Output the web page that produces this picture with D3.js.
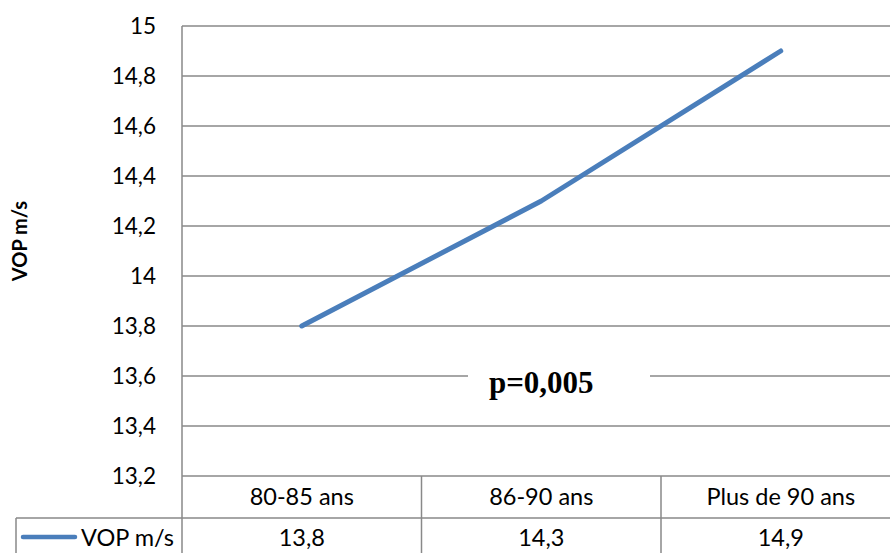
<!DOCTYPE html>
<html><head><meta charset="utf-8">
<script src="https://cdn.jsdelivr.net/npm/d3@7"></script>
<style>body{margin:0;background:#fff}svg{display:block}</style>
</head><body>
<script>
const categories = ["80-85 ans", "86-90 ans", "Plus de 90 ans"];
const values = [13.8, 14.3, 14.9];
const seriesName = "VOP m/s";
const yTicks = [13.2, 13.4, 13.6, 13.8, 14, 14.2, 14.4, 14.6, 14.8, 15];
const yTitle = "VOP m/s";
const annotation = "p=0,005";

const W = 890, H = 553;
const mLeft = 182, mTop = 26, mBottom = 476, colW = 239.5;
const svg = d3.select("body").append("svg").attr("width", W).attr("height", H);

const x = d3.scaleBand().domain(categories).range([mLeft, mLeft + colW * categories.length]);
const y = d3.scaleLinear().domain([13.2, 15]).range([mBottom, mTop]);
const fmt = v => String(v).replace(".", ",");
const grey = "#898989";
const font = "Lato, 'Open Sans', sans-serif";

// gridlines
svg.append("g").selectAll("line").data(yTicks).join("line")
  .attr("x1", mLeft).attr("x2", W + 20)
  .attr("y1", d => y(d)).attr("y2", d => y(d))
  .attr("stroke", grey).attr("stroke-width", 1.5);

// y axis line
svg.append("line").attr("x1", mLeft).attr("x2", mLeft).attr("y1", mTop).attr("y2", H)
  .attr("stroke", grey).attr("stroke-width", 1.5);

// tick labels
svg.append("g").selectAll("text").data(yTicks).join("text")
  .attr("x", mLeft - 26).attr("y", d => y(d)).attr("dy", "0.35em")
  .attr("text-anchor", "end").attr("font-family", font).attr("font-size", 22.5)
  .attr("fill", "#000").text(fmt);

// y title
svg.append("text").attr("transform", `translate(27,${(mTop + mBottom) / 2 - 10}) rotate(-90)`)
  .attr("text-anchor", "middle").attr("font-family", font).attr("font-weight", "bold")
  .attr("font-size", 20).text(yTitle);

// table
const rowTop = mBottom, rowMid = 518;
svg.append("line").attr("x1", 16).attr("x2", W + 20).attr("y1", rowMid).attr("y2", rowMid)
  .attr("stroke", grey).attr("stroke-width", 1.5);
svg.append("line").attr("x1", 16).attr("x2", 16).attr("y1", rowMid).attr("y2", H)
  .attr("stroke", grey).attr("stroke-width", 1.5);
svg.append("g").selectAll("line").data(categories.slice(1)).join("line")
  .attr("x1", d => x(d)).attr("x2", d => x(d)).attr("y1", rowTop).attr("y2", H)
  .attr("stroke", grey).attr("stroke-width", 1.5);
svg.append("g").selectAll("text").data(categories).join("text")
  .attr("x", d => x(d) + x.bandwidth() / 2).attr("y", 505)
  .attr("text-anchor", "middle").attr("font-family", font).attr("font-size", 23.5).text(d => d);
svg.append("g").selectAll("text").data(values).join("text")
  .attr("x", (d, i) => x(categories[i]) + x.bandwidth() / 2).attr("y", 546)
  .attr("text-anchor", "middle").attr("font-family", font).attr("font-size", 23.5).text(fmt);

// legend key
svg.append("line").attr("x1", 23).attr("x2", 75).attr("y1", 537).attr("y2", 537)
  .attr("stroke", "#4a7ebb").attr("stroke-width", 4.5).attr("stroke-linecap", "round");
svg.append("text").attr("x", 81).attr("y", 546).attr("font-family", font).attr("font-size", 23.5).text(seriesName);

// annotation box
svg.append("rect").attr("x", 468).attr("y", 358).attr("width", 182).attr("height", 44).attr("fill", "#fff");
svg.append("text").attr("x", x(categories[1]) + x.bandwidth() / 2).attr("y", 393)
  .attr("text-anchor", "middle").attr("font-family", "'Liberation Serif', 'Times New Roman', serif")
  .attr("font-weight", "bold").attr("font-size", 31).text(annotation);

// line
const line = d3.line().x((d, i) => x(categories[i]) + x.bandwidth() / 2).y(d => y(d));
svg.append("path").datum(values).attr("d", line).attr("fill", "none")
  .attr("stroke", "#4a7ebb").attr("stroke-width", 5).attr("stroke-linecap", "round").attr("stroke-linejoin", "round");
</script>
</body></html>
